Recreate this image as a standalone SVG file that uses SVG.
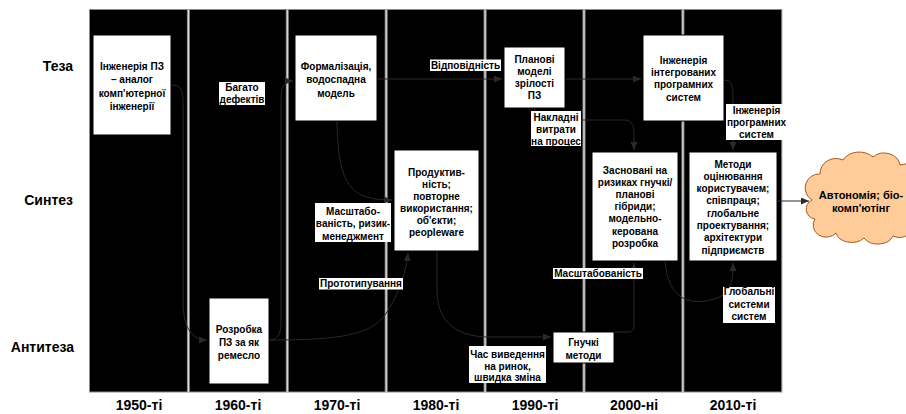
<svg xmlns="http://www.w3.org/2000/svg" width="906" height="414" viewBox="0 0 906 414">
<defs>
<style>
text{font-family:"Liberation Sans",Arial,sans-serif;font-weight:bold;fill:#000}
.n{font-size:10px;text-anchor:middle}
.row{font-size:14px;text-anchor:end}
.dec{font-size:14px;text-anchor:middle}
.box{fill:#fff;stroke:#000;stroke-width:1}
.lbl{fill:#fff}
.sep{stroke:#8a8a8a;stroke-width:3}
.sepi{stroke:#e6e6e6;stroke-width:1}
.c{fill:none;stroke:#2a2a2a;stroke-width:1;marker-end:url(#ah)}
</style>
<marker id="ah" viewBox="0 0 8 7" refX="8" refY="3.5" markerWidth="8" markerHeight="7" markerUnits="userSpaceOnUse" orient="auto">
<path d="M0,0 L8,3.5 L0,7 z" fill="#2a2a2a"/>
</marker>
</defs>
<rect width="906" height="414" fill="#fff"/>
<g id="background">
<rect x="89.5" y="9.5" width="692.3" height="382.5" fill="#000" stroke="#8a8a8a" stroke-width="1"/>
<g>
<line class="sep" x1="188.4" y1="9.5" x2="188.4" y2="392"/>
<line class="sep" x1="287.3" y1="9.5" x2="287.3" y2="392"/>
<line class="sep" x1="386.2" y1="9.5" x2="386.2" y2="392"/>
<line class="sep" x1="485.1" y1="9.5" x2="485.1" y2="392"/>
<line class="sep" x1="584" y1="9.5" x2="584" y2="392"/>
<line class="sep" x1="682.9" y1="9.5" x2="682.9" y2="392"/>
<line class="sepi" x1="188.4" y1="9.5" x2="188.4" y2="392"/>
<line class="sepi" x1="287.3" y1="9.5" x2="287.3" y2="392"/>
<line class="sepi" x1="386.2" y1="9.5" x2="386.2" y2="392"/>
<line class="sepi" x1="485.1" y1="9.5" x2="485.1" y2="392"/>
<line class="sepi" x1="584" y1="9.5" x2="584" y2="392"/>
<line class="sepi" x1="682.9" y1="9.5" x2="682.9" y2="392"/>
</g>
</g>
<g id="axis-labels">
<text class="row" x="73" y="71">Теза</text>
<text class="row" x="73" y="205">Синтез</text>
<text class="row" x="74" y="352">Антитеза</text>
<text class="dec" x="139" y="410">1950-ті</text>
<text class="dec" x="238" y="410">1960-ті</text>
<text class="dec" x="337" y="410">1970-ті</text>
<text class="dec" x="436" y="410">1980-ті</text>
<text class="dec" x="535" y="410">1990-ті</text>
<text class="dec" x="634" y="410">2000-ні</text>
<text class="dec" x="733" y="410">2010-ті</text>
</g>
<g id="connectors">
<path class="c" d="M171,85 C183,85 183,92 183,105 L183,300 C183,325 190,340 207,340"/>
<path class="c" d="M269,340 C281,340 281,330 281,315 L281,100 C281,87 284,81 293,81"/>
<path class="c" d="M269,340 C340,340 370,335 385,315 C395,300 405,280 408,253"/>
<path class="c" d="M377,79 L502,79"/>
<path class="c" d="M565,79 L641,79"/>
<path class="c" d="M337,121 C338,185 350,200 392,200"/>
<path class="c" d="M535,108 L535,120 L624,120 C631,120 634,125 634,133 L634,150"/>
<path class="c" d="M724,80 C731,80 733,85 733,95 L733,150"/>
<path class="c" d="M437,251 L437,290 C437,325 460,337 490,337 L551,337"/>
<path class="c" d="M614,332 L628,332 C632,332 634,330 634,325 L634,263"/>
<path class="c" d="M665,261 C668,300 690,305 710,300 C730,296 733,285 733,263"/>
<path class="c" d="M777,201 L809,201"/>
</g>
<g id="node-1950-thesis">
<rect class="box" x="93" y="35" width="78" height="100"/>
<text class="n" x="132" y="69.5">Інженерія ПЗ</text>
<text class="n" x="132" y="83">– аналог</text>
<text class="n" x="132" y="96.5">комп'ютерної</text>
<text class="n" x="132" y="110">інженерії</text>
</g>
<g id="label-bagato">
<rect class="lbl" x="219" y="82" width="46" height="23"/>
<text class="n" x="242" y="91">Багато</text>
<text class="n" x="242" y="103">дефектів</text>
</g>
<g id="node-1960-antithesis">
<rect class="box" x="209" y="298" width="60" height="86"/>
<text class="n" x="239" y="333">Розробка</text>
<text class="n" x="239" y="345.5">ПЗ за як</text>
<text class="n" x="239" y="358.5">ремесло</text>
</g>
<g id="node-1970-thesis">
<rect class="box" x="295" y="35" width="82" height="86"/>
<text class="n" x="336" y="69.5">Формалізація,</text>
<text class="n" x="336" y="83">водоспадна</text>
<text class="n" x="336" y="96.5">модель</text>
</g>
<g id="label-vidpovidnist">
<rect class="lbl" x="430" y="59.5" width="71" height="11.5"/>
<text class="n" x="465.5" y="69">Відповідність</text>
</g>
<g id="label-masshtabo">
<rect class="lbl" x="315" y="203" width="76" height="39"/>
<text class="n" x="353" y="214.5">Масштабо-</text>
<text class="n" x="353" y="227">ваність, ризик-</text>
<text class="n" x="353" y="239.5">менеджмент</text>
</g>
<g id="label-prototyp">
<rect class="lbl" x="319" y="278" width="84" height="11.5"/>
<text class="n" x="361" y="287">Прототипування</text>
</g>
<g id="node-1980-synthesis">
<rect class="box" x="394" y="150" width="85" height="101"/>
<text class="n" x="436.5" y="175.5">Продуктив-</text>
<text class="n" x="436.5" y="187.5">ність;</text>
<text class="n" x="436.5" y="199.5">повторне</text>
<text class="n" x="436.5" y="211.5">використання;</text>
<text class="n" x="436.5" y="223.5">об'єкти;</text>
<text class="n" x="436.5" y="235.5">peopleware</text>
</g>
<g id="label-chas">
<rect class="lbl" x="469" y="346" width="77" height="37"/>
<text class="n" x="507.5" y="357.5">Час виведення</text>
<text class="n" x="507.5" y="369.5">на ринок,</text>
<text class="n" x="507.5" y="381">швидка зміна</text>
</g>
<g id="node-1990-thesis">
<rect class="box" x="504" y="47" width="61" height="61"/>
<text class="n" x="534.5" y="63">Планові</text>
<text class="n" x="534.5" y="75">моделі</text>
<text class="n" x="534.5" y="87">зрілості</text>
<text class="n" x="534.5" y="99">ПЗ</text>
</g>
<g id="label-nakladni">
<rect class="lbl" x="531" y="111" width="50" height="35"/>
<text class="n" x="556" y="121">Накладні</text>
<text class="n" x="556" y="133">витрати</text>
<text class="n" x="556" y="144.5">на процес</text>
</g>
<g id="node-1990-antithesis">
<rect class="box" x="553" y="332" width="61" height="31"/>
<text class="n" x="583.5" y="345.5">Гнучкі</text>
<text class="n" x="583.5" y="358.5">методи</text>
</g>
<g id="label-masshtabovanist">
<rect class="lbl" x="553" y="268" width="90" height="11"/>
<text class="n" x="598" y="277">Масштабованість</text>
</g>
<g id="node-2000-synthesis">
<rect class="box" x="592" y="152" width="86" height="109"/>
<text class="n" x="635" y="173.5">Засновані на</text>
<text class="n" x="635" y="185.7">ризиках гнучкі/</text>
<text class="n" x="635" y="197.9">планові</text>
<text class="n" x="635" y="210.1">гібриди;</text>
<text class="n" x="635" y="222.3">модельно-</text>
<text class="n" x="635" y="234.5">керована</text>
<text class="n" x="635" y="246.7">розробка</text>
</g>
<g id="node-2000-thesis">
<rect class="box" x="643" y="35" width="81" height="86"/>
<text class="n" x="683.5" y="63.5">Інженерія</text>
<text class="n" x="683.5" y="75.9">інтегрованих</text>
<text class="n" x="683.5" y="88.3">програмних</text>
<text class="n" x="683.5" y="100.7">систем</text>
</g>
<g id="label-inzh-prog">
<rect class="lbl" x="726" y="104" width="61" height="36"/>
<text class="n" x="756.5" y="113.5">Інженерія</text>
<text class="n" x="756.5" y="125.5">програмних</text>
<text class="n" x="756.5" y="137.5">систем</text>
</g>
<g id="node-2010-synthesis">
<rect class="box" x="689" y="152" width="88" height="109"/>
<text class="n" x="733" y="167.5">Методи</text>
<text class="n" x="733" y="179.8">оцінювання</text>
<text class="n" x="733" y="192.1">користувачем;</text>
<text class="n" x="733" y="204.4">співпраця;</text>
<text class="n" x="733" y="216.7">глобальне</text>
<text class="n" x="733" y="229">проектування;</text>
<text class="n" x="733" y="241.3">архітектури</text>
<text class="n" x="733" y="253.6">підприємств</text>
</g>
<g id="label-globalni">
<rect class="lbl" x="723" y="287" width="52" height="36"/>
<text class="n" x="749" y="295">Глобальні</text>
<text class="n" x="749" y="307.5">системи</text>
<text class="n" x="749" y="319.5">систем</text>
</g>
<g id="node-cloud">
<path d="M812,200 A14,14 0 0 1 820,174 A16,15 0 0 1 843,160 A18,14 0 0 1 873,157 A16,14 0 0 1 900,165 A16,16 0 0 1 918,190 A16,16 0 0 1 914,220 A15,14 0 0 1 893,236 A16,12 0 0 1 864,238 A16,12 0 0 1 836,233 A13,12 0 0 1 815,219 A10,10 0 0 1 812,200 Z" fill="#ffcc99" stroke="#a85a20" stroke-width="1"/>
<text x="861" y="198.5" style="font-size:11px;text-anchor:middle">Автономія; біо-</text>
<text x="861" y="212" style="font-size:11px;text-anchor:middle">комп'ютінг</text>
</g>
</svg>
